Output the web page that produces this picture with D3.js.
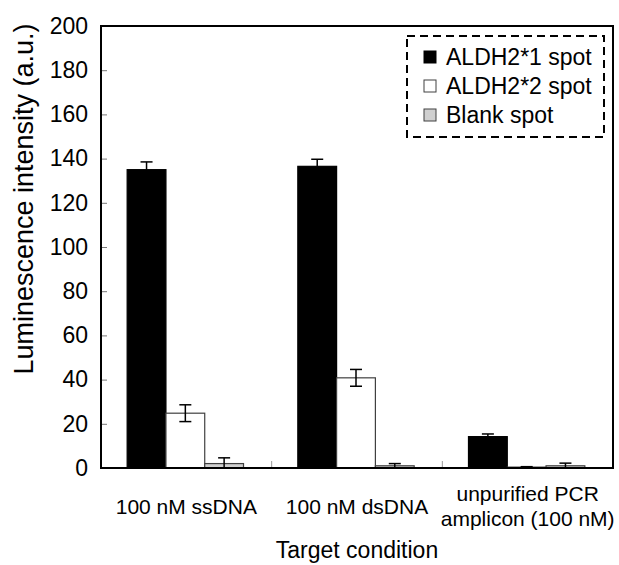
<!DOCTYPE html>
<html>
<head>
<meta charset="utf-8">
<script src="https://cdn.jsdelivr.net/npm/d3@7"></script>
<style>
  body { margin: 0; background: #fff; }
  text { font-family: "Liberation Sans", Arial, sans-serif; fill: #000; }
</style>
</head>
<body>
<svg id="chart" width="619" height="565"></svg>
<script>
// data
const groups = ["100 nM ssDNA", "100 nM dsDNA", "unpurified PCR\namplicon (100 nM)"]
const series = ["ALDH2*1 spot", "ALDH2*2 spot", "Blank spot"]
const aldh1 = [135, 136.5, 14.2]
const aldh1Err = [3.5, 3.2, 1.2]
const aldh2 = [24.8, 40.8, 0.4]
const aldh2Err = [3.8, 3.8, 0.2]
const blank = [2, 1, 1]
const blankErr = [2.6, 1, 1.2]
const yTicks = [0, 20, 40, 60, 80, 100, 120, 140, 160, 180, 200]
const fills = ["#000000", "#ffffff", "#d0d0d0"]
const strokes = ["#000000", "#404040", "#404040"]

const values = [aldh1, aldh2, blank]
const errs = [aldh1Err, aldh2Err, blankErr]

const m = { left: 101, right: 613, top: 26, bottom: 468 }
const svg = d3.select('#chart')

const x0 = d3.scaleBand().domain(groups).range([m.left, m.right])
const x1 = d3.scaleBand().domain(series).range([0, x0.bandwidth()]).paddingOuter(0.7)
const y = d3.scaleLinear().domain([0, 200]).range([m.bottom, m.top])

// bars
let rows = []
groups.forEach((g, gi) => {
  series.forEach((s, si) => {
    rows.push({ g: g, s: s, si: si, v: values[si][gi], e: errs[si][gi] })
  })
})

let bars = svg.append('g')
bars.selectAll('rect').data(rows).enter().append('rect')
  .attr('x', d => x0(d.g) + x1(d.s) - 1)
  .attr('y', d => y(d.v))
  .attr('width', x1.bandwidth())
  .attr('height', d => y(0) - y(d.v))
  .attr('fill', d => fills[d.si])
  .attr('stroke', d => strokes[d.si])
  .attr('stroke-width', 1.2)

// error bars
let eb = svg.append('g').attr('stroke', '#000').attr('stroke-width', 1.5)
rows.forEach(d => {
  let cx = x0(d.g) + x1(d.s) + x1.bandwidth() / 2 - 1
  let top = y(d.v + d.e), bot = y(Math.max(0, d.v - d.e))
  if (d.si == 0) bot = y(d.v)
  eb.append('line').attr('x1', cx).attr('x2', cx).attr('y1', top).attr('y2', bot)
  eb.append('line').attr('x1', cx - 6).attr('x2', cx + 6).attr('y1', top).attr('y2', top)
  if (d.si != 0) eb.append('line').attr('x1', cx - 6).attr('x2', cx + 6).attr('y1', bot).attr('y2', bot)
})

// y axis, ticks inside
let yAxis = svg.append('g').attr('transform', `translate(${m.left},0)`)
  .call(d3.axisLeft(y).tickValues(yTicks).tickSize(-6).tickPadding(13))
yAxis.select('.domain').remove()
yAxis.selectAll('line').attr('stroke', '#777').attr('stroke-width', 1)
yAxis.selectAll('text').style('font-size', '23px').attr('font-family', null)

// x ticks at group boundaries
let bounds = groups.slice(1).map(g => x0(g))
svg.append('g').selectAll('line').data(bounds).enter().append('line')
  .attr('x1', d => d).attr('x2', d => d)
  .attr('y1', m.bottom).attr('y2', m.bottom - 7)
  .attr('stroke', '#999').attr('stroke-width', 1)

// frame
svg.append('rect')
  .attr('x', m.left).attr('y', m.top)
  .attr('width', m.right - m.left).attr('height', m.bottom - m.top)
  .attr('fill', 'none').attr('stroke', '#000').attr('stroke-width', 2)

// category labels
groups.forEach(g => {
  let lines = g.split('\n')
  let cx = x0(g) + x0.bandwidth() / 2
  let t = svg.append('text').attr('text-anchor', 'middle').style('font-size', '21px')
  if (lines.length == 1) {
    t.attr('x', cx).attr('y', 514).text(g)
  } else {
    lines.forEach((ln, i) => {
      t.append('tspan').attr('x', cx).attr('y', 501 + i * 25).text(ln)
    })
  }
})

// axis titles
svg.append('text').attr('x', (m.left + m.right) / 2).attr('y', 558)
  .attr('text-anchor', 'middle').style('font-size', '23px').text('Target condition')
svg.append('text').attr('transform', 'translate(33,199) rotate(-90)')
  .attr('text-anchor', 'middle').style('font-size', '27px').text('Luminescence intensity (a.u.)')

// legend
let lg = svg.append('g')
lg.append('rect').attr('x', 407).attr('y', 36).attr('width', 197).attr('height', 101)
  .attr('fill', '#fff').attr('stroke', '#000').attr('stroke-width', 2).attr('stroke-dasharray', '8,5')
series.forEach((s, i) => {
  let yy = 57 + i * 29
  lg.append('rect').attr('x', 424).attr('y', yy - 6).attr('width', 12).attr('height', 12)
    .attr('fill', fills[i]).attr('stroke', strokes[i]).attr('stroke-width', 1)
  lg.append('text').attr('x', 446).attr('y', yy + 8).style('font-size', '23px').text(s)
})
</script>
</body>
</html>
